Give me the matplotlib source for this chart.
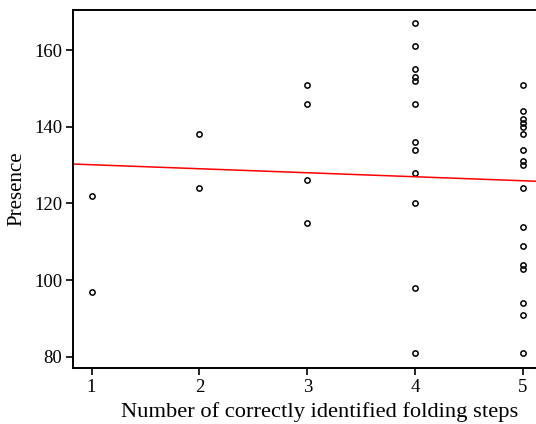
import matplotlib.pyplot as plt

# correctly identified folding steps vs presence score
steps = [1, 1,
         2, 2,
         3, 3, 3, 3,
         4, 4, 4, 4, 4, 4, 4, 4, 4, 4, 4, 4,
         5, 5, 5, 5, 5, 5, 5, 5, 5, 5, 5, 5, 5, 5, 5, 5, 5]
presence = [122, 97,
            138, 124,
            151, 146, 126, 115,
            167, 161, 155, 153, 152, 146, 136, 134, 128, 120, 98, 81,
            151, 144, 142, 141, 140, 138, 134, 131, 130, 124, 114, 109, 104, 103, 94, 91, 81]

# fitted line (as shown in the original figure)
fit_intercept = 131.15
fit_slope = -1.045

plt.rcParams['font.family'] = ['Liberation Serif', 'DejaVu Serif']

fig = plt.figure(figsize=(5.36, 4.24), dpi=100)
ax = fig.add_axes([0.137, 0.132, 0.866, 0.844])

ax.plot(steps, presence, linestyle='none', marker='o', markersize=3.8,
        markerfacecolor='none', markeredgecolor='black', markeredgewidth=1.1)
ax.axline((0, fit_intercept), slope=fit_slope, color='red', linewidth=1.1)

ax.set_xlim(0.832, 5.135)
ax.set_ylim(77.1, 170.4)
ax.set_xticks([1, 2, 3, 4, 5])
ax.set_yticks([80, 100, 120, 140, 160])

ax.set_xlabel('Number of correctly identified folding steps', fontsize=16.2)
ax.set_ylabel('Presence', fontsize=15)
ax.xaxis.set_label_coords(0.53, -0.095)
ax.yaxis.set_label_coords(-0.102, 0.5)

ax.tick_params(axis='both', direction='out', length=5, width=1.2, labelsize=13.5)
ax.tick_params(axis='x', pad=3)
ax.tick_params(axis='y', pad=3)
for side in ['left', 'bottom', 'top']:
    ax.spines[side].set_linewidth(1.4)
ax.spines['right'].set_visible(False)

fig.savefig('out.png', dpi=100)
